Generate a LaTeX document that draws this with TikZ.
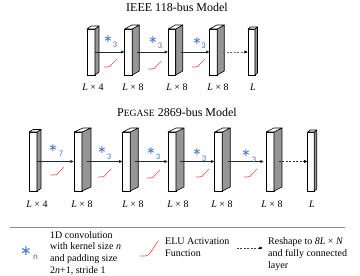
\documentclass[tikz,border=0pt]{standalone}
\usepackage{fontspec}
\setmainfont{Liberation Serif}
\newfontfamily\calib{Carlito}
\newfontfamily\djv{DejaVu Sans}
\usetikzlibrary{calc,arrows.meta}
\definecolor{astblue}{RGB}{68,114,196}
\definecolor{elured}{RGB}{255,70,70}
\definecolor{sidegray}{RGB}{150,150,150}
\newcommand\mkblock[7]{%
  \node[face,minimum width=#4pt,minimum height=#5pt] (#1) at (#2,#3) {};
  \draw[sidef] (#1.north east) -- ++(#6,-#7) -- ++(0,#5) -- (#1.south east) -- cycle;
  \draw[topf] (#1.north west) -- ++(#6,-#7) -- ++(#4,0) -- (#1.north east) -- cycle;
}
\newcommand\elucurve[2]{%
  \begin{scope}[shift={(#1,#2)}]
    \draw[elu] (0,0) -- (3,0) .. controls (6,0) and (7,-1) .. (8,-3) -- (13,-8);
  \end{scope}
}
\newcommand\convlabel[6]{%
  \node[astnode] (#1) at (#2,#3) {∗};
  \node[subnode] (#1s) at (#4,#5) {#6};
}
\begin{document}
\begin{tikzpicture}[x=1pt,y=-1pt,
  face/.style={draw=black,fill=white,line width=0.8pt,inner sep=0pt,outer sep=0pt},
  sidef/.style={draw=black,fill=sidegray,line width=0.6pt,line join=round},
  topf/.style={draw=black,fill=white,line width=0.6pt,line join=round},
  conn/.style={draw=black!85,line width=0.7pt,-{Latex[length=3.5pt,width=3.2pt]}},
  dconn/.style={draw=black!60,line width=0.7pt,dash pattern=on 2pt off 1.5pt,-{Latex[length=3.5pt,width=3.2pt,color=black]}},
  elu/.style={draw=elured,line width=0.6pt,line cap=round},
  astnode/.style={text=astblue,inner sep=0pt,font=\djv\fontsize{11}{11}\selectfont},
  subnode/.style={text=astblue,inner sep=0pt,font=\calib\fontsize{8.5}{8.5}\selectfont},
  lab/.style={inner sep=0pt,font=\fontsize{10}{12}\selectfont},
  ttl/.style={inner sep=0pt,font=\fontsize{12}{14}\selectfont},
  legtext/.style={inner sep=0pt,anchor=west,align=left,font=\fontsize{10}{11.7}\selectfont},
  sepline/.style={draw=black!45,line width=0.8pt}]
\useasboundingbox (0,0) rectangle (360,276);

% ---------- IEEE 118-bus ----------
\node[ttl] (t1) at (177,7) {IEEE 118-bus Model};
\mkblock{b1}{91}{52}{8}{46}{4}{3}
\mkblock{b2}{128.5}{52}{7.5}{46}{7}{4}
\mkblock{b3}{172}{52}{7.5}{46}{7}{4}
\mkblock{b4}{213.5}{52}{7.5}{46}{7}{4}
\mkblock{b5}{251.5}{52}{7}{46}{2.5}{2}

\draw[conn] (b1.east) -- (b2.west);
\draw[conn] ($(b2.east)+(5,0)$) -- (b3.west);
\draw[conn] ($(b3.east)+(5,0)$) -- (b4.west);
\draw[dconn] ($(b4.east)+(6,0)$) -- (b5.west);

\convlabel{a1}{108}{39}{115}{45}{3}
\convlabel{a2}{153}{40}{160}{46}{3}
\convlabel{a3}{197}{41}{203.5}{46}{3}
\elucurve{104}{67}
\elucurve{148.5}{69}
\elucurve{192}{67}

\node[lab] (l1) at (93,87) {\textit{L} × 4};
\node[lab] (l2) at (133,87) {\textit{L} × 8};
\node[lab] (l3) at (177,87) {\textit{L} × 8};
\node[lab] (l4) at (218,87) {\textit{L} × 8};
\node[lab] (l5) at (253,87) {\textit{L}};

% ---------- PEGASE 2869-bus ----------
\node[ttl] (t2) at (177,112) {P{\fontsize{9.6}{10}\selectfont EGASE} 2869-bus Model};
\mkblock{c1}{33}{161.5}{8}{59}{4}{2.5}
\mkblock{c2}{78}{161.5}{8}{59}{9}{4}
\mkblock{c3}{126.5}{161.5}{7.5}{59}{8}{4}
\mkblock{c4}{172}{161.5}{8}{59}{8}{4}
\mkblock{c5}{218.5}{161.5}{7.5}{59}{8}{4}
\mkblock{c6}{270}{161.5}{8}{59}{8}{4}
\mkblock{c7}{311}{161.5}{6.5}{59}{2.5}{2}

\draw[conn] (c1.east) -- (c2.west);
\draw[conn] ($(c2.east)+(5,0)$) -- (c3.west);
\draw[conn] ($(c3.east)+(5,0)$) -- (c4.west);
\draw[conn] ($(c4.east)+(4,0)$) -- (c5.west);
\draw[conn] ($(c5.east)+(6,0)$) -- ($(c6.west)+(-2,0)$);
\draw[dconn,draw=black!80] ($(c6.east)+(5,0)$) -- (c7.west);

\convlabel{p1}{53}{148}{61}{154}{7}
\convlabel{p2}{102}{150}{109}{157}{3}
\convlabel{p3}{151}{151}{158}{157}{3}
\convlabel{p4}{197}{152}{204}{159}{3}
\convlabel{p5}{246}{153}{254}{160}{3}
\elucurve{51}{175}
\elucurve{98}{177}
\elucurve{147}{178}
\elucurve{196}{177}
\elucurve{244}{177}

\node[lab] (m1) at (37,204) {\textit{L} × 4};
\node[lab] (m2) at (82,204) {\textit{L} × 8};
\node[lab] (m3) at (133,204) {\textit{L} × 8};
\node[lab] (m4) at (178,204) {\textit{L} × 8};
\node[lab] (m5) at (222,204) {\textit{L} × 8};
\node[lab] (m6) at (272,204) {\textit{L} × 8};
\node[lab] (m7) at (312,204) {\textit{L}};

% ---------- legend ----------
\draw[sepline] (10,227) -- (345,227);
\node[astnode,font=\djv\fontsize{14}{14}\selectfont] (ga) at (26,251) {∗};
\node[subnode,font=\calib\fontsize{9}{9}\selectfont] (gn) at (35.5,257) {n};
\node[legtext] (g1) at (50,253) {1D convolution\\with kernel size \textit{n}\\and padding size\\2\textit{n}+1, stride 1};
\begin{scope}[shift={(140,256)}]
  \draw[elu] (0,0) -- (5,0) .. controls (8,0) and (9,-1.5) .. (10.5,-3.5) -- (18,-15);
\end{scope}
\node[legtext] (g2) at (165,247.5) {ELU Activation\\Function};
\coordinate (d1) at (237,248);
\coordinate (d2) at (263,248);
\draw[dconn,draw=black!75] (d1) -- (d2);
\node[legtext] (g3) at (268,254) {Reshape to \textit{8L} × \textit{N}\\and fully connected\\layer};
\end{tikzpicture}
\end{document}
